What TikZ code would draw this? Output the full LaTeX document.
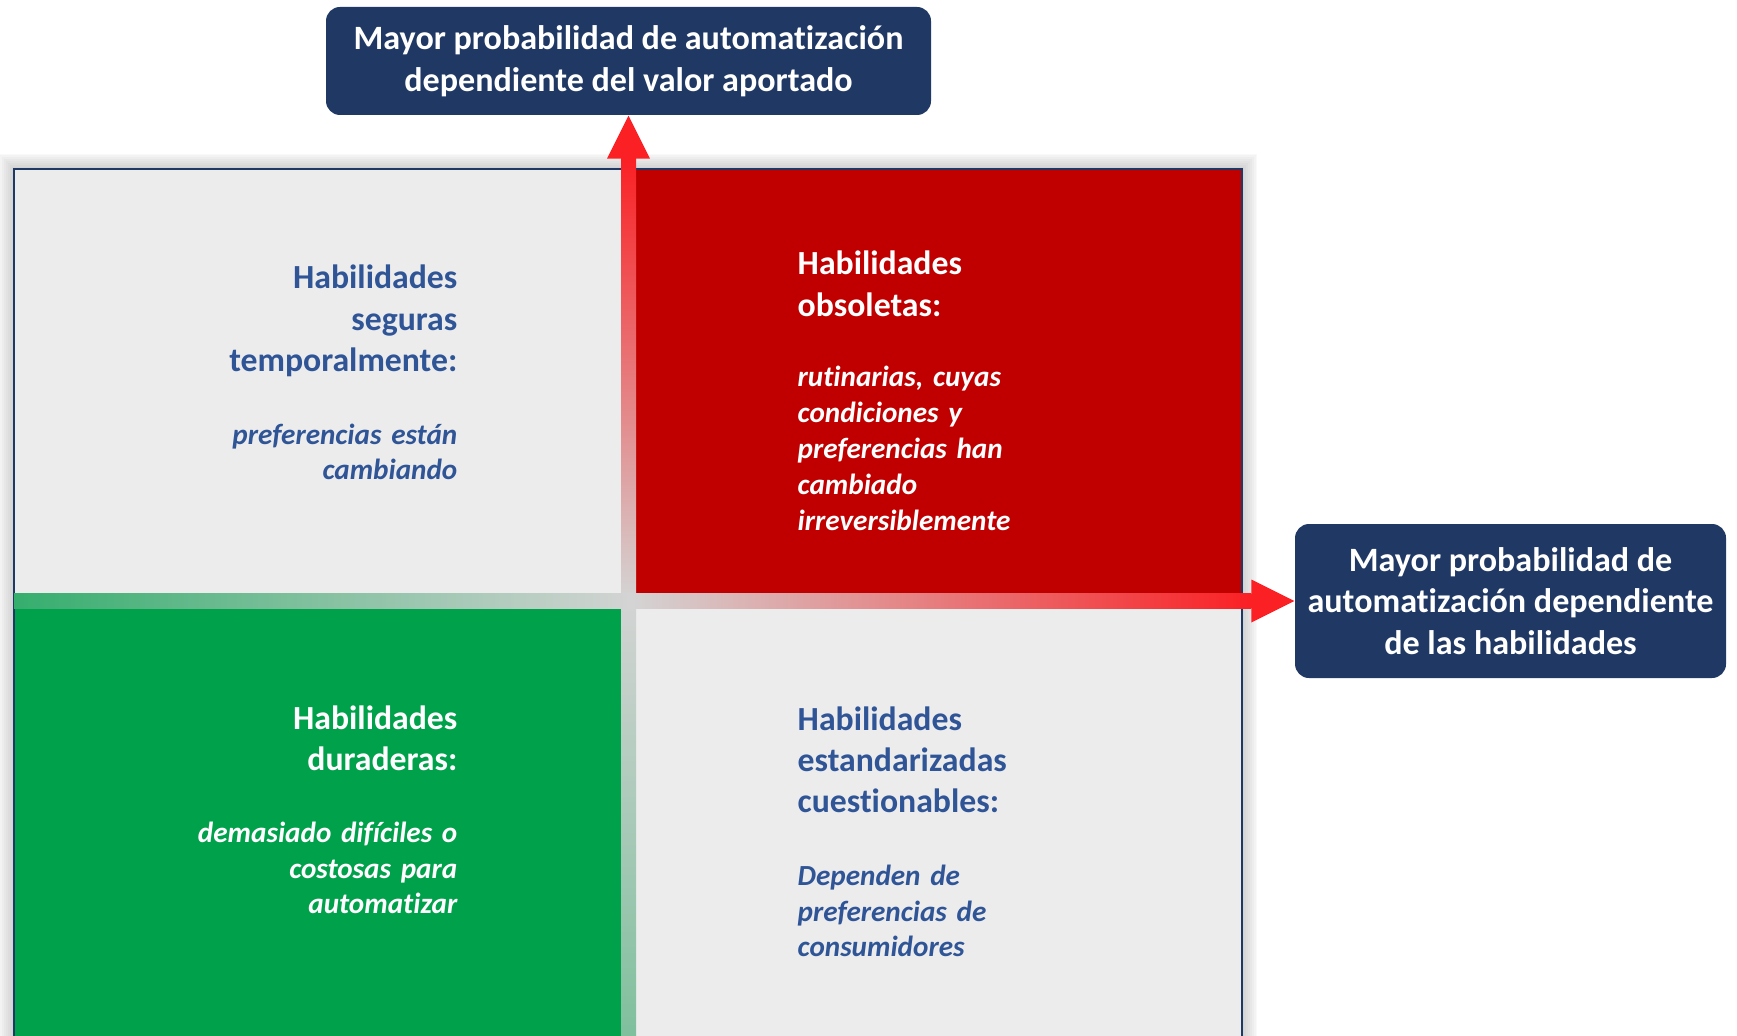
\documentclass[tikz,border=0pt]{standalone}
\usepackage{fontspec}
\setmainfont{Carlito}[Ligatures=NoCommon]
\usepackage{xcolor}
\usetikzlibrary{calc}

\definecolor{azulcaja}{RGB}{32,56,100}
\definecolor{azultexto}{RGB}{47,85,151}
\definecolor{rojocuad}{RGB}{192,0,0}
\definecolor{verdecuad}{RGB}{0,161,75}
\definecolor{griscuad}{RGB}{236,236,236}
\definecolor{grisbanda}{RGB}{212,212,212}
\definecolor{rojoflecha}{RGB}{250,32,36}

\begin{document}
\begin{tikzpicture}[x=0.1mm, y=-0.1mm,
    caja/.style={fill=azulcaja, rounded corners=1.4mm, text=white, align=center,
        inner sep=0pt, font=\fontsize{9.7}{11.8}\selectfont\bfseries},
    titulo/.style={inner sep=0pt, text width=60mm, font=\fontsize{9.6}{11.8}\selectfont\bfseries},
    texto/.style={inner sep=0pt, text width=60mm, font=\fontsize{8.3}{10.24}\selectfont\bfseries\itshape}]
    \useasboundingbox (0,0) rectangle (1737,1036);

    % 1. Sombra y marco de la matriz
    \foreach \g in {1,...,8}
        \draw[black, opacity=0.022, line width=\g*1.1pt] (14,1036) -- (14,169) -- (1242,169) -- (1242,1036);
    \fill[grisbanda] (14,169) rectangle (1242,1036);

    % 2. Los cuatro cuadrantes
    \fill[griscuad] (14,169) rectangle (621,593);
    \fill[rojocuad] (636,169) rectangle (1242,593);
    \fill[verdecuad] (14,608) rectangle (621,1036);
    \fill[griscuad] (636,608) rectangle (1242,1036);
    \draw[azulcaja, line width=0.6pt] (14,1036) -- (14,169) -- (1242,169) -- (1242,1036);

    % 3. Cajas de los ejes
    \node[caja, minimum width=60.5mm, minimum height=10.8mm] (ejeY) at (628.5,61)
        {Mayor probabilidad de automatización\\dependiente del valor aportado};
    \node[caja, minimum width=43.1mm, minimum height=15.4mm] (ejeX) at (1510.5,601)
        {Mayor probabilidad de\\automatización dependiente\\de las habilidades};

    % 4. Flechas con degradado (vertical y horizontal)
    \coordinate (origenV) at (628.5,1036);
    \coordinate (origenH) at (14,600.5);
    \shade[top color=rojoflecha, bottom color=verdecuad!40!grisbanda, middle color=grisbanda]
        ($(origenV)+(-7.5,0)$) rectangle ($(ejeY.south)+(7.5,43)$);
    \fill[rojoflecha] (ejeY.south) -- ++(-21.5,43) -- ++(43,0) -- cycle;
    \shade[left color=verdecuad!75!grisbanda, right color=rojoflecha, middle color=grisbanda]
        ($(origenH)+(0,-7.5)$) rectangle ($(ejeX.west)+(-43,7.5)$);
    \fill[rojoflecha] (ejeX.west) -- ++(-43,-21.5) -- ++(0,43) -- cycle;

    % 5. Textos de los cuadrantes
    % Arriba a la izquierda
    \node[titulo, text=azultexto, align=right, anchor=base east] (segTit) at (458,289)
        {Habilidades\\seguras\\temporalmente:};
    \node[texto, text=azultexto, align=right, anchor=base east] (segTxt) at (458,444)
        {preferencias están\\cambiando};
    % Arriba a la derecha
    \node[titulo, text=white, align=left, anchor=base west] (obsTit) at (797,275)
        {Habilidades\\obsoletas:};
    \node[texto, text=white, align=left, anchor=base west] (obsTxt) at (797,387)
        {rutinarias, cuyas\\condiciones y\\preferencias han\\cambiado\\irreversiblemente};
    % Abajo a la izquierda
    \node[titulo, text=white, align=right, anchor=base east] (durTit) at (458,729)
        {Habilidades\\duraderas:};
    \node[texto, text=white, align=right, anchor=base east] (durTxt) at (458,842)
        {demasiado difíciles o\\costosas para\\automatizar};
    % Abajo a la derecha
    \node[titulo, text=azultexto, align=left, anchor=base west] (estTit) at (797,730)
        {Habilidades\\estandarizadas\\cuestionables:};
    \node[texto, text=azultexto, align=left, anchor=base west] (estTxt) at (797,885)
        {Dependen de\\preferencias de\\consumidores};

\end{tikzpicture}
\end{document}
